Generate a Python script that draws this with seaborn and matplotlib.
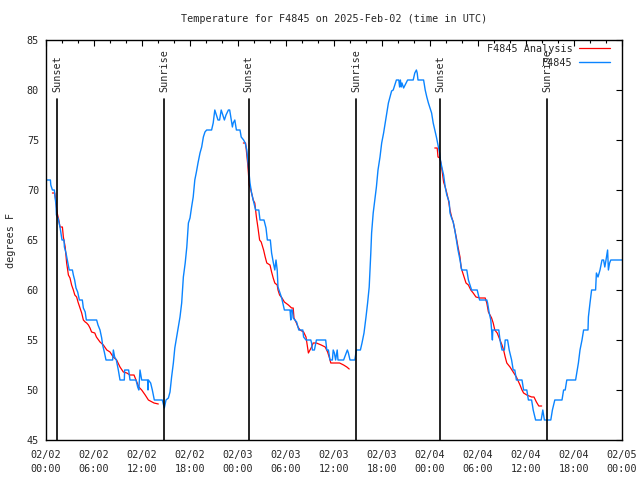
import matplotlib
matplotlib.use("Agg")
import matplotlib.pyplot as plt
import matplotlib.dates as mdates
from matplotlib.lines import Line2D
import seaborn as sns
import pandas as pd
import numpy as np

# ---------------- data (hours since 2025-02-02 00:00 UTC, deg F) ----------------
obs_hours = [0.1, 0.55, 0.6, 0.8, 1.05, 1.1, 1.25, 1.3, 1.5, 1.75, 2.0, 2.25, 2.3, 2.5, 2.67, 2.9, 3.3, 3.42, 3.58, 3.75,
             3.96, 4.17, 4.54, 4.67, 4.9, 5.04, 6.33, 6.5, 6.75, 6.96, 7.08, 7.29, 7.5, 8.33, 8.42, 8.58, 8.79, 9.04, 9.25, 9.79,
             9.83, 10.33, 10.5, 11.25, 11.46, 11.6, 11.75, 11.96, 12.7, 12.75, 12.8, 13.08, 13.29, 13.54, 14.54, 14.79, 15.0, 15.3, 15.5, 15.7,
             15.92, 16.1, 16.33, 16.54, 16.75, 16.96, 17.17, 17.4, 17.6, 17.8, 18.0, 18.2, 18.4, 18.6, 18.8, 19.0, 19.25, 19.46, 19.67, 19.87,
             20.08, 20.7, 20.9, 21.1, 21.3, 21.5, 21.7, 21.9, 22.1, 22.3, 22.5, 22.8, 22.96, 23.1, 23.3, 23.4, 23.6, 23.8, 24.25, 24.4,
             24.7, 24.9, 25.1, 25.3, 25.5, 25.7, 25.9, 26.2, 26.6, 26.75, 27.25, 27.5, 27.67, 28.04, 28.2, 28.4, 28.6, 28.75, 28.9, 29.0,
             29.25, 29.46, 29.8, 30.5, 30.6, 30.65, 30.8, 30.9, 31.33, 31.6, 32.1, 32.2, 32.5, 33.1, 33.2, 33.3, 33.55, 33.8, 34.96, 35.1,
             35.3, 35.5, 35.8, 35.9, 36.05, 36.2, 36.4, 36.5, 37.2, 37.67, 37.8, 38.0, 38.6, 38.8, 39.3, 39.5, 39.75, 40.0, 40.2, 40.4,
             40.6, 40.7, 40.9, 41.1, 41.3, 41.5, 41.75, 41.96, 42.2, 42.4, 42.6, 42.8, 43.0, 43.2, 43.4, 43.8, 44.1, 44.2, 44.3, 44.4,
             44.5, 44.7, 45.2, 45.9, 46.1, 46.3, 46.4, 46.5, 47.2, 47.4, 47.6, 47.8, 48.0, 48.2, 48.4, 48.6, 48.8, 49.0, 49.2, 49.3,
             49.5, 49.7, 49.9, 50.1, 50.4, 50.5, 50.7, 50.9, 51.1, 51.3, 51.5, 51.75, 51.96, 52.6, 52.8, 53.0, 53.2, 53.9, 54.2, 55.1,
             55.2, 55.4, 55.6, 55.7, 55.8, 55.85, 56.6, 56.75, 57.0, 57.3, 57.4, 57.7, 57.9, 58.2, 58.4, 58.6, 58.8, 59.5, 59.7, 60.1,
             60.3, 60.7, 60.9, 61.2, 61.9, 62.1, 62.3, 63.1, 63.3, 63.6, 64.5, 64.7, 64.9, 65.1, 66.2, 66.4, 66.55, 66.75, 67.0, 67.2,
             67.75, 67.8, 68.0, 68.2, 68.7, 68.8, 69.0, 69.25, 69.5, 69.7, 69.85, 70.0, 70.2, 70.3, 70.45, 70.6, 72.0]
obs_temp = [71, 71, 70.5, 70, 70, 69.5, 68.5, 67.5, 67.2, 66.3, 65, 65, 64.3, 63.7, 63, 62, 62, 61.5, 61, 60.2,
            59.8, 59, 59, 58.2, 57.8, 57, 57, 56.5, 56, 55.2, 54.5, 53.8, 53, 53, 54, 53.3, 53, 52, 51, 51,
            52, 52, 51, 51, 50.3, 50, 52, 51, 51, 50, 51, 50.7, 50, 49, 49, 48.2, 49, 49.2, 49.8, 51.3,
            52.7, 54.2, 55.3, 56.3, 57.3, 58.7, 61.3, 62.7, 64.3, 66.7, 67.2, 68.3, 69.3, 71, 71.8, 72.7, 73.7, 74.3, 75.3, 75.8,
            76, 76, 76.7, 78, 77.5, 77, 77, 78, 77.5, 77, 77.5, 78, 78, 77.3, 76.3, 76.7, 77, 76, 76, 75.3,
            75, 74.7, 74, 72.3, 70.7, 69.7, 69, 68, 68, 67, 67, 66.2, 65, 65, 63.7, 62.8, 62, 63, 62, 60.3,
            59.7, 59.2, 58, 58, 57, 58, 58, 57.2, 56.8, 56, 56, 55.3, 55, 55, 54.7, 54, 54, 55, 55, 54,
            54, 53, 53, 54, 53.7, 53, 54, 53, 53, 54, 53.7, 53, 53, 54, 54, 54.7, 55.7, 57.3, 58.7, 60.3,
            63.7, 65.7, 67.7, 69, 70.3, 72, 73.3, 74.7, 75.7, 76.7, 77.7, 78.7, 79.3, 79.9, 80, 81, 81, 80.3, 81, 80.3,
            80.7, 80.2, 81, 81, 81.7, 82, 81.7, 81, 81, 80, 79.3, 78.7, 78.2, 77.7, 76.7, 76, 75.3, 74.5, 73.7, 73,
            72.2, 71.5, 70.3, 69.5, 68.8, 67.7, 67.2, 66.8, 66, 65, 64, 63, 62, 62, 61, 60.5, 60, 60, 59, 59,
            58.7, 57.7, 57, 56, 55, 56, 56, 55, 54, 54, 55, 55, 54, 53, 52, 52, 51, 51, 50, 50,
            49, 49, 48, 47, 47, 48, 47, 47, 48, 49, 49, 50, 50, 51, 51, 52, 52.7, 54, 55, 56,
            56, 57.3, 58.7, 60, 60, 61.7, 61.3, 62, 63, 63, 62.3, 63, 64, 62, 62.7, 63, 63]

ana1_hours = [0.8, 1.1, 1.25, 1.4, 1.6, 1.75, 2.05, 2.17, 2.4, 2.58, 2.8, 3.0, 3.2, 3.42, 3.6, 3.83, 4.0, 4.25, 4.46, 4.67,
              4.9, 5.08, 5.3, 5.5, 5.7, 6.1, 6.3, 6.75, 7.17, 7.6, 8.0, 8.4, 8.83, 9.25, 9.67, 10.1, 10.5, 11.0, 11.25, 11.6,
              11.96, 12.4, 12.8, 13.5, 14.04]
ana1_temp = [69.7, 69.7, 68.7, 67.7, 67, 66.3, 66.3, 65.3, 64.3, 62.7, 61.5, 61.2, 60.5, 60, 59.5, 59.3, 58.8, 58.2, 57.7, 57,
             56.8, 56.7, 56.5, 56.2, 55.8, 55.7, 55.3, 54.8, 54.5, 54, 53.8, 53.3, 53, 52.3, 51.8, 51.7, 51.5, 51.5, 51, 50.3,
             50, 49.5, 49, 48.7, 48.6]
ana2_hours = [24.67, 24.95, 25.2, 25.3, 25.4, 25.5, 25.7, 25.9, 26.1, 26.3, 26.5, 26.7, 26.9, 27.2, 27.4, 27.6, 28.0, 28.2, 28.4, 28.6,
              28.9, 29.0, 29.2, 29.5, 29.8, 30.3, 30.7, 30.9, 31.0, 31.3, 31.5, 31.75, 32.2, 32.5, 32.8, 33.0, 33.2, 33.4, 33.8, 34.4,
              34.9, 35.2, 35.4, 35.6, 36.3, 36.7, 37.2, 37.6, 37.9]
ana2_temp = [74.7, 74.7, 72.7, 71.7, 70.5, 70.3, 69.7, 69, 68.7, 67.3, 66.2, 65, 64.8, 64, 63.3, 62.7, 62.5, 61.8, 61.2, 60.7,
             60.5, 60, 59.5, 59.2, 58.8, 58.5, 58.2, 58.2, 57.2, 56.7, 56.3, 56, 55.8, 55.3, 53.7, 54, 54.3, 54.7, 54.7, 54.5,
             54.3, 53.8, 53.3, 52.7, 52.7, 52.7, 52.5, 52.3, 52.1]
ana3_hours = [48.6, 48.9, 49.0, 49.25, 49.5, 49.7, 49.9, 50.1, 50.3, 50.5, 50.7, 50.9, 51.1, 51.3, 51.5, 51.75, 51.9, 52.1, 52.3, 52.5,
              52.8, 53.1, 53.4, 53.75, 54.25, 54.9, 55.1, 55.3, 55.7, 55.9, 56.1, 56.4, 56.75, 57.0, 57.2, 57.4, 57.6, 58.0, 58.4, 58.8,
              59.25, 59.5, 59.7, 60.1, 60.7, 61.0, 61.3, 61.6, 61.96]
ana3_temp = [74.2, 74.2, 73.3, 73.2, 72, 70.8, 70.3, 69.7, 69, 68, 67.3, 66.8, 66, 65.2, 64.3, 63.3, 62.2, 61.7, 61.2, 60.7,
             60.5, 60, 59.7, 59.3, 59.2, 59.2, 58.7, 57.8, 57.2, 56.7, 56, 55.7, 55, 54.5, 54, 53.3, 52.7, 52.3, 51.8, 51.3,
             50.5, 50, 49.7, 49.5, 49.3, 49.3, 48.8, 48.4, 48.4]

sunset_hours = [1.37, 25.33, 49.3]
sunrise_hours = [14.8, 38.78, 62.68]

y_ticks = [45, 50, 55, 60, 65, 70, 75, 80, 85]
title_text = "Temperature for F4845 on 2025-Feb-02 (time in UTC)"
ylabel_text = "degrees F"
label_ana = "F4845 Analysis"
label_obs = "F4845"

# ---------------- build frames ----------------
base = pd.Timestamp("2025-02-02 00:00")
def to_time(hours):
    return base + pd.to_timedelta(np.asarray(hours, dtype=float), unit="h")

obs_df = pd.DataFrame({"time": to_time(obs_hours), "temp": obs_temp})
ana_df = pd.concat([
    pd.DataFrame({"time": to_time(h), "temp": t, "seg": i})
    for i, (h, t) in enumerate([(ana1_hours, ana1_temp), (ana2_hours, ana2_temp), (ana3_hours, ana3_temp)])
], ignore_index=True)

# ---------------- plot ----------------
sns.set_style("white")
plt.rcParams["font.family"] = ["DejaVu Sans Mono", "DejaVu Sans"]
FS = 7.3
RED = "#ff0000"
BLUE = "#0a84ff"

fig = plt.figure(figsize=(6.4, 4.8), dpi=100)
ax = fig.add_axes([46 / 640, 40 / 480, 576 / 640, 400 / 480])

sns.lineplot(data=ana_df, x="time", y="temp", units="seg", estimator=None, sort=False,
             color=RED, linewidth=0.9, ax=ax, legend=False)
sns.lineplot(data=obs_df, x="time", y="temp", estimator=None, sort=False,
             color=BLUE, linewidth=1.0, ax=ax, legend=False)

ax.set_xlim(base, base + pd.Timedelta(hours=72))
ax.set_ylim(45, 85)
ax.set_yticks(y_ticks)

for h in sunset_hours + sunrise_hours:
    ax.axvline(to_time([h])[0], ymin=0, ymax=0.853, color="black", linewidth=1.2, zorder=5)
for hs, name in [(sunset_hours, "Sunset"), (sunrise_hours, "Sunrise")]:
    for h in hs:
        ax.text(to_time([h])[0], 0.87, name, transform=ax.get_xaxis_transform(),
                rotation=90, ha="center", va="bottom", fontsize=FS, zorder=6)

ax.xaxis.set_major_locator(mdates.HourLocator(byhour=[0, 6, 12, 18]))
ax.xaxis.set_minor_locator(mdates.HourLocator(interval=2))
ax.xaxis.set_major_formatter(mdates.DateFormatter("%m/%d\n%H:%M"))

ax.tick_params(axis="both", which="both", direction="in", top=True, right=True,
               labelsize=FS, color="black", width=0.8)
ax.tick_params(axis="both", which="major", length=4)
ax.tick_params(axis="both", which="minor", length=2)
ax.tick_params(axis="y", which="minor", left=False, right=False)
ax.tick_params(axis="x", which="major", pad=7)
ax.tick_params(axis="y", which="major", pad=5)
for lab in ax.get_xticklabels():
    lab.set_linespacing(1.5)

for sp in ax.spines.values():
    sp.set_visible(True)
    sp.set_color("black")
    sp.set_linewidth(1.0)

ax.set_xlabel("")
ax.set_ylabel(ylabel_text, fontsize=FS)
ax.yaxis.set_label_coords(-0.052, 0.5)
ax.set_title(title_text, fontsize=FS, pad=13)

handles = [Line2D([], [], color=RED, linewidth=0.9), Line2D([], [], color=BLUE, linewidth=1.0)]
ax.legend(handles, [label_ana, label_obs], loc="upper right", bbox_to_anchor=(0.979, 0.99),
          frameon=False, markerfirst=False, fontsize=FS, handlelength=3.0, handletextpad=0.7,
          borderaxespad=0, borderpad=0, labelspacing=0.35)

fig.savefig("out.png", dpi=100)
